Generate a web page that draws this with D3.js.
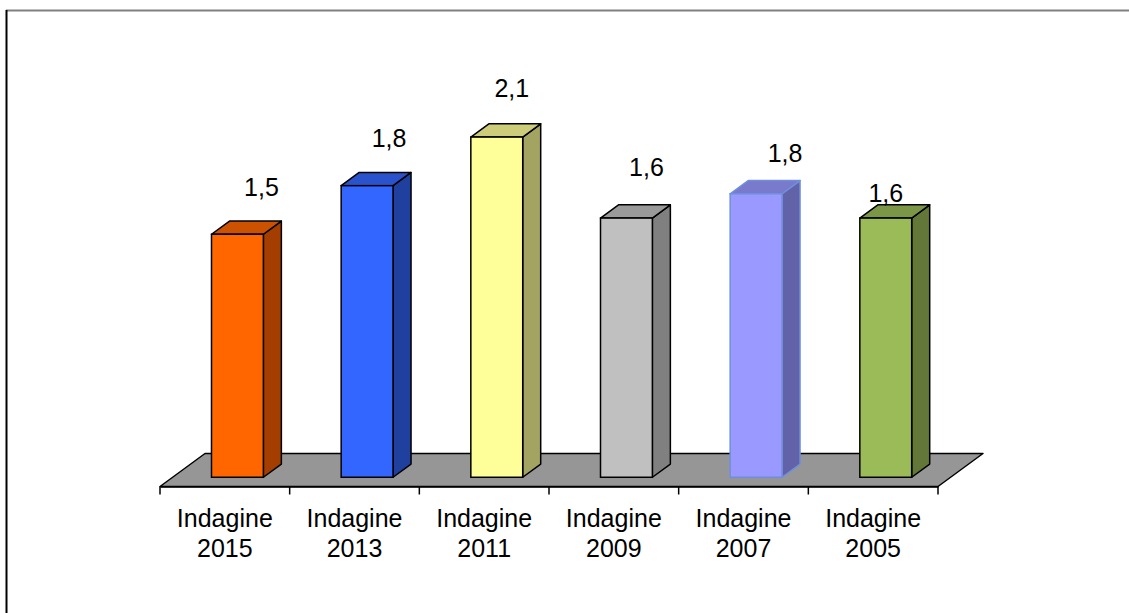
<!DOCTYPE html>
<html>
<head>
<meta charset="utf-8">
<script src="https://cdn.jsdelivr.net/npm/d3@7"></script>
<style>
  html, body { margin: 0; padding: 0; background: #fff; }
  svg { display: block; font-family: "Liberation Sans", Arial, sans-serif; }
</style>
</head>
<body>
<div class="chart-container"></div>
<script>
// data
const categories = ['Indagine 2015', 'Indagine 2013', 'Indagine 2011', 'Indagine 2009', 'Indagine 2007', 'Indagine 2005'];
const values = [1.5, 1.8, 2.1, 1.6, 1.75, 1.6];
const frontColors = ['#ff6600', '#3366ff', '#ffff99', '#c0c0c0', '#9999ff', '#9bbb59'];
const topColors = ['#cc5200', '#2a52cc', '#cccc7a', '#9a9a9a', '#7a7acc', '#7c9647'];
const sideColors = ['#a33d00', '#2040a0', '#a3a362', '#808080', '#6262a8', '#637838'];
const strokeColors = ['#000', '#000', '#000', '#000', '#6f8fdc', '#000'];
// hand-moved value labels (dx, dy) from default spot
const labelNudge = [[4, 2], [2, 1], [-5, 0], [0, -2], [9, 8], [-20, 24]];

const width = 1129;
const height = 613;

// floor geometry
const floorLeft = 160;
const floorRight = 938;
const floorFront = 486.5;
const depth = { dx: 45, dy: -33 };
const barFront = 0.28; // fraction of floor depth
const barDepth = 0.4;

const svg = d3.select('.chart-container')
  .append('svg')
  .attr('width', width)
  .attr('height', height);

// frame (top + left only)
svg.append('line')
  .attr('x1', 6).attr('x2', width).attr('y1', 10.5).attr('y2', 10.5)
  .attr('stroke', '#808080').attr('stroke-width', 2);
svg.append('line')
  .attr('x1', 6.5).attr('x2', 6.5).attr('y1', 10).attr('y2', height)
  .attr('stroke', '#000').attr('stroke-width', 2);

const x = d3.scaleBand()
  .domain(categories)
  .range([floorLeft, floorRight])
  .paddingInner(0)
  .paddingOuter(0);

const baseY = floorFront + barFront * depth.dy;
const y = d3.scaleLinear()
  .domain([0, 2.5])
  .range([baseY, baseY - 2.5 * 162]);

// floor
svg.append('path')
  .attr('d', d3.line()([
    [floorLeft, floorFront],
    [floorLeft + depth.dx, floorFront + depth.dy],
    [floorRight + depth.dx, floorFront + depth.dy],
    [floorRight, floorFront]
  ]) + 'Z')
  .attr('fill', '#969696')
  .attr('stroke', '#000')
  .attr('stroke-width', 1.5)
  .attr('stroke-linejoin', 'round');

// axis ticks + labels
const axis = d3.axisBottom(x).tickSize(0).tickPadding(0);
const gx = svg.append('g').attr('transform', `translate(0, ${floorFront})`);
gx.call(axis);
gx.select('.domain').attr('stroke', '#000').attr('stroke-width', 1.5);
gx.selectAll('.tick text').remove();

const bounds = x.domain().map(d => x(d)).concat([floorRight]);
gx.selectAll('.tickmark')
  .data(bounds)
  .enter()
  .append('line')
  .attr('x1', d => d).attr('x2', d => d)
  .attr('y1', 0).attr('y2', 8)
  .attr('stroke', '#000')
  .attr('stroke-width', 1.5);

const labels = gx.selectAll('.cat')
  .data(categories)
  .enter()
  .append('text')
  .attr('text-anchor', 'middle')
  .attr('font-size', 25)
  .attr('fill', '#000')
  .attr('transform', d => `translate(${x(d) + x.bandwidth() / 2}, 0)`);
labels.append('tspan').attr('x', 0).attr('y', 40).text(d => d.split(' ')[0]);
labels.append('tspan').attr('x', 0).attr('y', 70).text(d => d.split(' ')[1]);

// bars
const bw = x.bandwidth() * 0.4;
const ddx = depth.dx * barDepth;
const ddy = depth.dy * barDepth;
const shiftX = depth.dx * barFront;

const bars = svg.selectAll('.bar')
  .data(values)
  .enter()
  .append('g')
  .attr('class', 'bar');

const x0 = (d, i) => x(categories[i]) + (x.bandwidth() - bw) / 2 + shiftX;

bars.append('path')
  .attr('d', (d, i) => {
    const l = x0(d, i), r = l + bw, t = y(d), b = y(0);
    return d3.line()([[r, b], [r + ddx, b + ddy], [r + ddx, t + ddy], [r, t]]) + 'Z';
  })
  .attr('fill', (d, i) => sideColors[i])
  .attr('stroke', (d, i) => strokeColors[i])
  .attr('stroke-width', 1.5)
  .attr('stroke-linejoin', 'round');

bars.append('path')
  .attr('d', (d, i) => {
    const l = x0(d, i), r = l + bw, t = y(d);
    return d3.line()([[l, t], [l + ddx, t + ddy], [r + ddx, t + ddy], [r, t]]) + 'Z';
  })
  .attr('fill', (d, i) => topColors[i])
  .attr('stroke', (d, i) => strokeColors[i])
  .attr('stroke-width', 1.5)
  .attr('stroke-linejoin', 'round');

bars.append('rect')
  .attr('x', (d, i) => x0(d, i))
  .attr('y', d => y(d))
  .attr('width', bw)
  .attr('height', d => y(0) - y(d))
  .attr('fill', (d, i) => frontColors[i])
  .attr('stroke', (d, i) => strokeColors[i])
  .attr('stroke-width', 1.5);

// value labels
const fmt = v => d3.format('.1f')(v).replace('.', ',');
bars.append('text')
  .attr('text-anchor', 'middle')
  .attr('font-size', 25)
  .attr('fill', '#000')
  .attr('x', (d, i) => x0(d, i) + bw / 2 + 20 + labelNudge[i][0])
  .attr('y', (d, i) => y(d) - 40 + labelNudge[i][1])
  .text(d => fmt(d));
</script>
</body>
</html>
